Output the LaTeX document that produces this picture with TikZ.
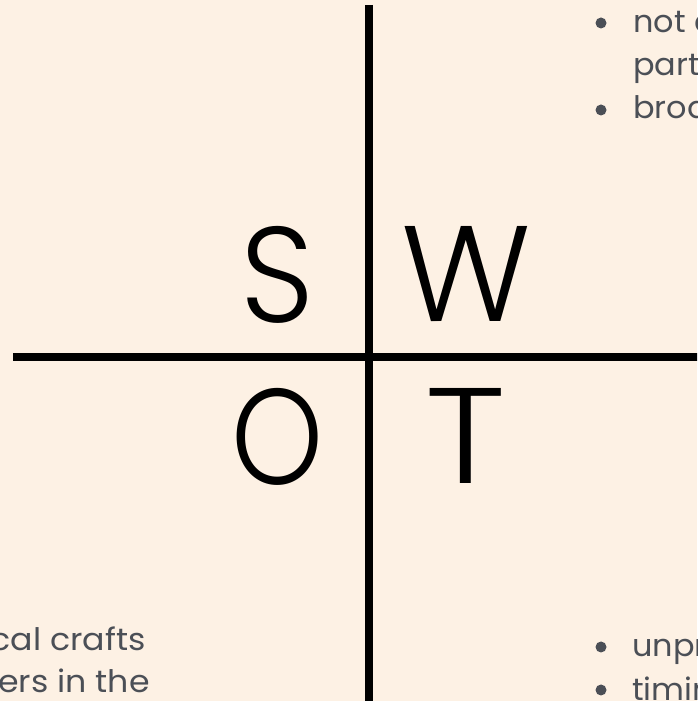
\documentclass[tikz,border=0pt]{standalone}
\usepackage{fontspec}
\setmainfont{Poppins}
\newfontfamily\bigfont{Poppins Light}
\definecolor{bgc}{HTML}{FDF1E4}
\definecolor{txtc}{HTML}{4B4F56}
\begin{document}
\begin{tikzpicture}[x=1pt,y=1pt,
  bigletter/.style={anchor=base,inner sep=0pt,font=\bigfont\fontsize{136}{136}\selectfont,text=black},
  bodytext/.style={inner sep=0pt,font=\fontsize{31}{43}\selectfont,text=txtc,xscale=1.03,transform shape},
  widetext/.style={bodytext,xscale=1.04},
  dot/.style={circle,fill=txtc,inner sep=0pt,minimum size=11pt},
  axis/.style={line width=8pt,draw=black}]
\useasboundingbox (0,0) rectangle (697,701);
\fill[bgc] (0,0) rectangle (697,701);
\clip (0,0) rectangle (697,701);
% axes
\coordinate (vtop) at (369,696);
\coordinate (vbot) at (369,-5);
\coordinate (hleft) at (13,344);
\coordinate (hright) at (702,344);
\draw[axis] (vtop) -- (vbot);
\draw[axis] (hleft) -- (hright);
% letters
\node[bigletter,xscale=0.95,transform shape] (S) at (277.5,378) {S};
\node[bigletter] (W) at (466,379) {W};
\node[bigletter,xscale=0.86,transform shape] (O) at (278,216) {O};
\node[bigletter,xscale=1.14,transform shape] (T) at (466,217) {T};
% top right bullets
\node[dot] (b1) at (601,678) {};
\node[dot] (b2) at (601,591) {};
\node[bodytext,anchor=base west] (t1) at (633,668) {not co};
\node[bodytext,anchor=base west] (t2) at (633,625) {part};
\node[bodytext,anchor=base west] (t3) at (633,582) {broa};
% bottom right bullets
\node[dot] (b3) at (601,54) {};
\node[dot] (b4) at (601,11) {};
\node[bodytext,anchor=base west] (t4) at (632,44) {unpr};
\node[bodytext,anchor=base west] (t5) at (632,1) {timin};
% bottom left text
\node[widetext,anchor=base east] (t6) at (146,50) {local crafts};
\node[widetext,anchor=base east] (t7) at (150,9) {ers in the};
\end{tikzpicture}
\end{document}
